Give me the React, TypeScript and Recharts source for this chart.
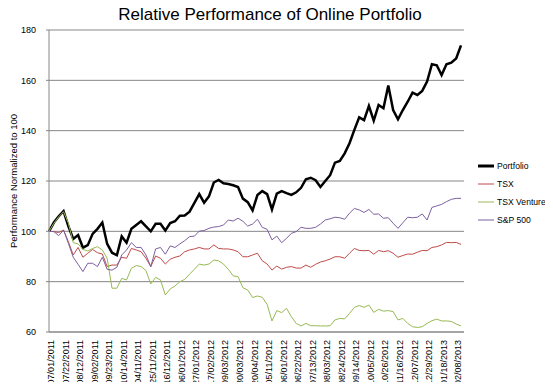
import { LineChart, Line, CartesianGrid, XAxis, YAxis, Legend, Label } from "recharts"

const tickLabels = [
  "07/01/2011", "07/22/2011", "08/12/2011", "09/02/2011", "09/23/2011", "10/14/2011",
  "04/11/2011", "25/11/2011", "16/12/2011", "06/01/2012", "27/01/2012", "17/02/2012",
  "09/03/2012", "30/03/2012", "20/04/2012", "05/11/2012", "06/01/2012", "06/22/2012",
  "07/13/2012", "08/03/2012", "08/24/2012", "09/14/2012", "10/05/2012", "10/26/2012",
  "11/16/2012", "12/07/2012", "12/29/2012", "01/18/2013", "02/08/2013",
]

// weekly values, normalized to 100
const portfolio = [
  100, 103.5, 106, 108, 102, 97, 98.5, 93.5, 94.5, 99, 101, 103.5, 95, 91.5, 90.5,
  98, 95.5, 101, 102.5, 104, 102, 100, 103, 103, 100.3, 103.3, 104, 106.2, 106.3, 107.8,
  111.3, 114.8, 111.4, 113.9, 119.4, 120.4, 119.1, 118.8, 118.3, 117.6, 113, 111.6, 108.3, 114.4, 116,
  114.8, 108.7, 115, 116, 115.2, 114.5, 115.5, 117.3, 120.7, 121.3, 120.3, 117.6, 120, 122.3, 127.3,
  128, 131, 135, 140.3, 145.3, 144.2, 149.8, 144, 150.2, 148.9, 157.9, 148.2, 144.5, 148.2, 151.5,
  155.1, 154.2, 155.8, 159.5, 166.4, 166, 162.1, 166.4, 167, 168.7, 173.9,
]

const tsx = [
  100, 99.9, 99.5, 100.5, 95.9, 90.6, 93.6, 89.7, 91.3, 92.8, 91.5, 91, 86, 86.6, 86.6,
  89.7, 89.3, 93.2, 92.6, 91.9, 89.3, 86, 90.2, 89.3, 87, 88.9, 89.7, 90.2, 91.9, 92.6,
  93, 93.6, 93, 93, 94.6, 93.2, 93, 93, 92.6, 91.9, 89.9, 89.9, 90.6, 91.3, 88.3,
  87, 84.6, 86.2, 85, 85.7, 86, 85.4, 85.4, 86.6, 85.7, 86.9, 87.8, 88.3, 89, 89.9,
  89.9, 89.3, 91.3, 93.2, 92.4, 92.3, 92.4, 90.9, 92.4, 91.9, 92.3, 91.3, 89.7, 90.4, 91,
  90.9, 91.7, 92.4, 92.3, 93.6, 93.9, 94.6, 95.6, 95.5, 95.6, 94.8,
]

const tsxVenture = [
  100, 103.2, 105.8, 107.8, 103.2, 95.5, 95, 92.8, 92.2, 93.2, 93.9, 92.6, 89.3, 77.4, 77.4,
  81.3, 80.7, 85.3, 86.4, 86, 84.4, 79.1, 81.7, 80.7, 74.7, 77.1, 78.3, 80, 80.9, 83,
  84.9, 87, 86.6, 87, 88.6, 88.3, 87, 84.9, 82.3, 82, 77.6, 76.7, 73.7, 74.3, 73.8,
  71, 64.4, 68.5, 67.7, 69.4, 66.1, 63.4, 62.4, 63.4, 62.5, 62.5, 62.4, 62.4, 62.5, 64.8,
  65.4, 65.2, 67.4, 69.8, 70.5, 69.8, 70.7, 67.8, 69, 68.3, 68.5, 68.1, 64.8, 65.4, 63.4,
  62.1, 61.8, 62.1, 63.4, 64.5, 65.1, 64.4, 64.4, 64.2, 63.2, 62.4,
]

const sp500 = [
  100, 99.9, 98.3, 100.5, 95.2, 89.7, 86.9, 84, 87.3, 87.3, 86, 89.7, 84.9, 84.6, 85.7,
  90.6, 92.6, 95.5, 93.6, 93.6, 90.6, 86, 93, 93.6, 90.9, 94.2, 93.6, 95, 96.3, 97.9,
  98.1, 100.1, 100.3, 101.2, 101.7, 101.9, 102.5, 104.5, 104.1, 105.2, 104, 102.1, 102.9, 104.8, 101.6,
  100.8, 96.6, 98.1, 95.5, 97.2, 99.2, 99.9, 101.6, 101.2, 101.2, 101.6, 102.9, 104.5, 105, 105.6,
  105.4, 104.8, 107.2, 109.1, 108.5, 107.5, 108.7, 106.8, 106.9, 105.2, 105.4, 103.2, 101.2, 103.4, 105.6,
  105.4, 105.6, 106.9, 104.5, 109.5, 110.1, 110.7, 111.8, 112.7, 113.1, 113.1,
]

const yTicks = [60, 80, 100, 120, 140, 160, 180]

const series = [
  { key: "portfolio", name: "Portfolio", color: "#000000", width: 2.5 },
  { key: "tsx", name: "TSX", color: "#be4b48", width: 1 },
  { key: "tsxVenture", name: "TSX Venture", color: "#98b954", width: 1 },
  { key: "sp500", name: "S&P 500", color: "#7d60a0", width: 1 },
]

const data = portfolio.map((p, i) => ({
  idx: i,
  portfolio: p,
  tsx: tsx[i],
  tsxVenture: tsxVenture[i],
  sp500: sp500[i],
}))

const font = "'Liberation Sans', Arial, sans-serif"
const gray = "#878787"

function DateTick({ x, y, payload }: any) {
  const label = tickLabels[payload.value / 3] ?? ""
  const tx = x + 5
  return (
    <text
      x={tx}
      y={y}
      transform={`rotate(-90, ${tx}, ${y})`}
      textAnchor="end"
      fontSize={9}
      fontFamily={font}
      fill="#000"
    >
      {label}
    </text>
  )
}

function renderLegend() {
  return (
    <svg width={66} height={72} style={{ display: "block", overflow: "visible" }}>
      {series.map((s, i) => (
        <g key={s.key}>
          <line x1={0} x2={16} y1={9 + i * 18} y2={9 + i * 18} stroke={s.color} strokeWidth={s.width > 1 ? 3 : 1} />
          <text x={19} y={12 + i * 18} fontSize={8.6} fontFamily={font} fill="#000">
            {s.name}
          </text>
        </g>
      ))}
    </svg>
  )
}

export default function App() {
  return (
    <div style={{ margin: -8 }}>
      <LineChart
        data={data}
        width={553}
        height={390}
        margin={{ top: 30, right: 89, bottom: 0, left: 0 }}
      >
        <text x={270} y={20} textAnchor="middle" fontSize={17} fontFamily={font} fill="#000">
          Relative Performance of Online Portfolio
        </text>
        <CartesianGrid vertical={false} stroke={gray} strokeWidth={1} />
        <XAxis
          dataKey="idx"
          type="category"
          interval={2}
          height={58}
          padding={{ left: 0, right: 3 }}
          tickLine={false}
          axisLine={{ stroke: gray }}
          tick={<DateTick />}
        />
        <YAxis
          domain={[60, 180]}
          ticks={yTicks}
          width={49}
          tickSize={3}
          tickMargin={10}
          tickLine={{ stroke: gray }}
          axisLine={{ stroke: gray }}
          tick={{ fontSize: 9, fontFamily: font, fill: "#000" }}
        >
          <Label
            content={() => (
              <text
                x={17}
                y={181}
                transform="rotate(-90, 17, 181)"
                textAnchor="middle"
                fontSize={9.5}
                fontFamily={font}
                fill="#000"
              >
                Performance Normalized to 100
              </text>
            )}
          />
        </YAxis>
        <Legend
          layout="horizontal"
          verticalAlign="middle"
          align="center"
          content={renderLegend}
          wrapperStyle={{ left: 478, top: 157, width: 66, height: 72 }}
        />
        {series.map((s) => (
          <Line
            key={s.key}
            type="linear"
            dataKey={s.key}
            name={s.name}
            stroke={s.color}
            strokeWidth={s.width}
            dot={false}
            isAnimationActive={false}
          />
        ))}
      </LineChart>
    </div>
  )
}
